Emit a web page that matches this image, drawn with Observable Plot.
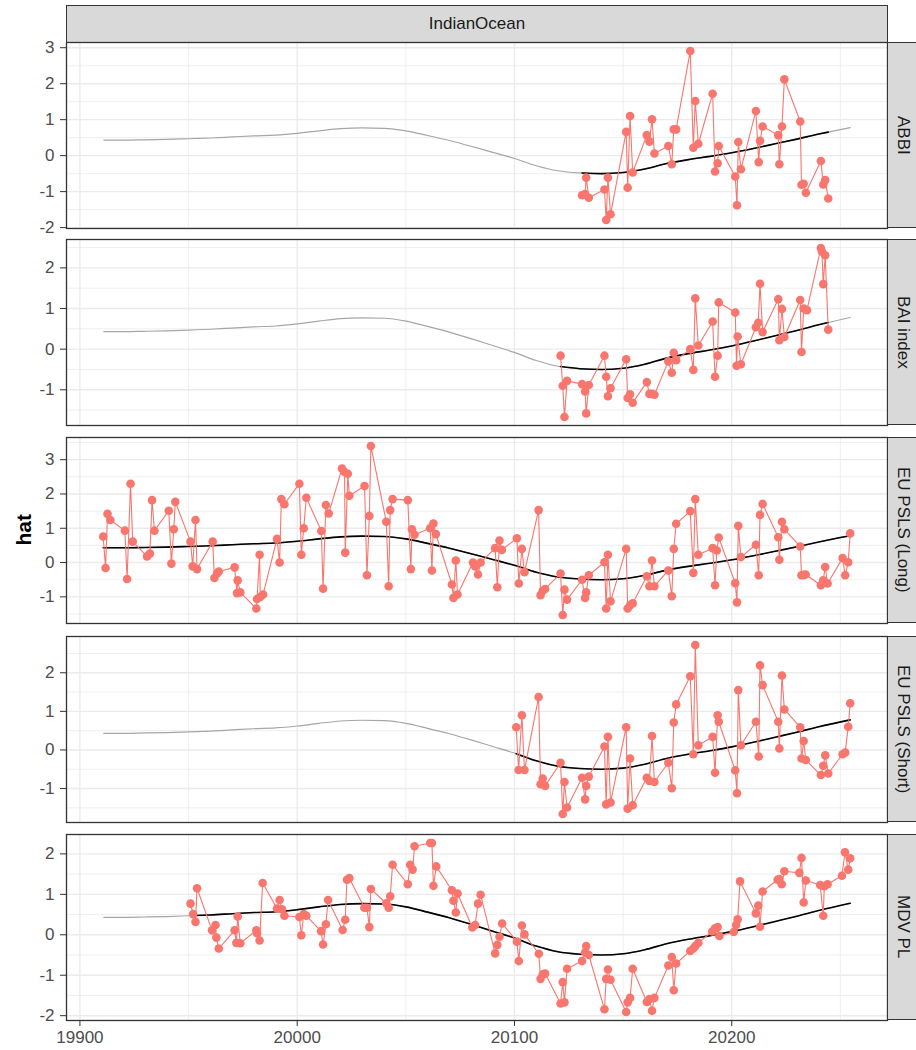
<!DOCTYPE html>
<html>
<head>
<meta charset="utf-8">
<script src="https://cdn.jsdelivr.net/npm/d3@7"></script>
<script src="https://cdn.jsdelivr.net/npm/@observablehq/plot@0.6"></script>
<style>
html, body { margin: 0; padding: 0; background: #fff; overflow: hidden; }
#root { position: relative; width: 916px; height: 1050px; overflow: hidden; font-family: "Liberation Sans", Arial, sans-serif; }
#root svg { position: absolute; left: 0; overflow: visible; }
.strip { position: absolute; background: #D9D9D9; border: 1px solid #333; box-sizing: border-box; color: #1A1A1A; font-size: 17px; display: flex; align-items: center; justify-content: center; white-space: nowrap; }
.strip.right span { writing-mode: vertical-rl; }
#ylab { position: absolute; left: 10px; top: 480px; width: 28px; height: 100px; display: flex; align-items: center; justify-content: center; font-size: 21px; font-weight: bold; color: #000; }
#ylab span { writing-mode: vertical-rl; transform: rotate(180deg); }
</style>
</head>
<body>
<div id="root"></div>
<script>
(function () {
// ---------------- data ----------------
const columnLabel = "IndianOcean";
const yTitle = "hat";
const panelNames = ["ABBI", "BAI index", "EU PSLS (Long)", "EU PSLS (Short)", "MDV PL"];

const xTicks = [19900, 20000, 20100, 20200];
const abbiTicks = [-2, -1, 0, 1, 2, 3];
const baiTicks = [-1, 0, 1, 2];
const longTicks = [-1, 0, 1, 2, 3];
const shortTicks = [-1, 0, 1, 2];
const mdvTicks = [-2, -1, 0, 1, 2];

// fitted smooth curve (shared by all panels)
const smoothX = [19911, 19920, 19930, 19940, 19950, 19960, 19970, 19980, 19990, 20000, 20010, 20020, 20030, 20040, 20050, 20060, 20070, 20080, 20090, 20100, 20110, 20120, 20130, 20140, 20150, 20160, 20170, 20180, 20190, 20200, 20210, 20220, 20230, 20240, 20254.5];
const smoothY = [0.43, 0.43, 0.44, 0.45, 0.47, 0.49, 0.52, 0.55, 0.57, 0.62, 0.69, 0.75, 0.77, 0.76, 0.69, 0.56, 0.42, 0.26, 0.09, -0.08, -0.28, -0.42, -0.48, -0.50, -0.47, -0.37, -0.22, -0.11, -0.02, 0.08, 0.20, 0.33, 0.46, 0.60, 0.78];

const abbiX = [20131.1, 20132.5, 20133.0, 20134.2, 20141.4, 20142.2, 20143.0, 20144.2, 20151.4, 20152.1, 20153.2, 20154.4, 20160.9, 20162.1, 20163.3, 20164.4, 20170.8, 20172.4, 20173.3, 20174.4, 20180.9, 20182.3, 20183.2, 20184.6, 20191.2, 20192.3, 20193.5, 20194.0, 20201.6, 20202.4, 20203.0, 20204.2, 20211.1, 20212.4, 20213.0, 20214.2, 20221.4, 20221.9, 20223.1, 20224.2, 20231.5, 20232.1, 20233.1, 20234.1, 20241.0, 20242.1, 20243.0, 20244.4];
const abbiY = [-1.10, -1.07, -0.61, -1.17, -0.94, -1.79, -0.61, -1.63, 0.66, -0.89, 1.10, -0.47, 0.57, 0.39, 1.01, 0.06, 0.27, -0.24, 0.73, 0.73, 2.91, 0.22, 1.52, 0.33, 1.72, -0.44, -0.21, 0.27, -0.58, -1.38, 0.38, -0.38, 1.24, -0.18, 0.41, 0.81, 0.57, -0.24, 0.81, 2.12, 0.95, -0.81, -0.78, -1.03, -0.15, -0.80, -0.68, -1.19];

const baiX = [20121.2, 20122.2, 20123.0, 20124.2, 20131.1, 20132.5, 20133.0, 20134.2, 20141.4, 20142.2, 20143.0, 20144.2, 20151.4, 20152.1, 20153.2, 20154.4, 20160.9, 20162.1, 20163.3, 20164.4, 20170.8, 20172.4, 20173.3, 20174.4, 20180.9, 20182.3, 20183.2, 20184.6, 20191.2, 20192.3, 20193.5, 20194.0, 20201.6, 20202.2, 20202.7, 20204.2, 20211.1, 20212.2, 20213.0, 20214.2, 20221.4, 20221.9, 20223.1, 20224.2, 20231.5, 20232.1, 20233.1, 20234.6, 20241.0, 20241.5, 20242.1, 20243.0, 20244.4];
const baiY = [-0.16, -0.90, -1.67, -0.78, -0.86, -1.04, -1.58, -0.88, -0.16, -0.68, -1.16, -0.96, -0.25, -1.20, -1.11, -1.32, -0.81, -1.10, -1.10, -1.12, -0.30, -0.58, -0.09, -0.27, 0.00, -0.51, 1.25, 0.09, 0.68, -0.68, -0.16, 1.15, 0.90, -0.41, 0.31, -0.37, 0.54, 0.65, 1.61, 0.42, 1.23, 0.22, 0.99, 0.30, 1.21, -0.07, 1.00, 0.96, 2.49, 2.40, 1.60, 2.31, 0.48];

const longX = [19910.7, 19911.8, 19912.7, 19914.0, 19920.7, 19921.7, 19923.3, 19924.3, 19930.9, 19932.2, 19933.2, 19934.3, 19940.9, 19942.1, 19943.2, 19943.9, 19950.9, 19951.9, 19953.2, 19953.9, 19961.1, 19961.9, 19963.1, 19963.9, 19971.2, 19972.3, 19972.6, 19973.8, 19981.2, 19981.5, 19982.7, 19983.0, 19984.3, 19990.7, 19991.9, 19992.7, 19994.1, 20001.0, 20001.9, 20003.0, 20004.2, 20011.1, 20011.9, 20013.2, 20014.5, 20020.6, 20021.8, 20022.1, 20023.3, 20024.0, 20031.0, 20032.1, 20033.2, 20033.9, 20041.0, 20042.1, 20042.8, 20043.9, 20050.9, 20052.3, 20052.8, 20054.0, 20061.2, 20062.0, 20062.7, 20063.8, 20071.2, 20071.9, 20073.0, 20073.8, 20080.9, 20081.9, 20083.2, 20084.4, 20091.1, 20092.1, 20093.1, 20094.2, 20101.1, 20102.0, 20103.4, 20104.6, 20111.1, 20112.0, 20113.0, 20114.1, 20121.2, 20122.2, 20123.0, 20124.2, 20131.1, 20132.5, 20133.0, 20134.2, 20141.4, 20142.2, 20143.0, 20144.2, 20151.4, 20152.1, 20153.2, 20154.4, 20160.9, 20162.1, 20163.3, 20164.4, 20170.8, 20172.4, 20173.3, 20174.4, 20180.9, 20182.3, 20183.2, 20184.6, 20191.2, 20192.3, 20193.1, 20194.0, 20201.6, 20202.4, 20203.0, 20204.2, 20211.1, 20212.4, 20213.0, 20214.2, 20221.4, 20221.9, 20223.1, 20224.2, 20231.5, 20232.1, 20233.1, 20234.0, 20241.0, 20242.1, 20243.0, 20244.1, 20251.0, 20252.2, 20253.6, 20254.5];
const longY = [0.76, -0.16, 1.42, 1.24, 0.93, -0.48, 2.30, 0.61, 0.18, 0.26, 1.82, 0.93, 1.51, -0.03, 0.97, 1.77, 0.61, -0.11, 1.24, -0.19, 0.61, -0.45, -0.32, -0.26, -0.14, -0.89, -0.52, -0.87, -1.34, -1.06, 0.23, -1.00, -0.93, 0.69, 0.00, 1.85, 1.70, 2.30, 0.23, 1.00, 1.89, 0.92, -0.76, 1.68, 1.43, 2.74, 2.64, 0.29, 2.59, 1.95, 2.23, -0.37, 1.36, 3.40, 1.19, -0.69, 1.53, 1.85, 1.82, -0.19, 0.97, 0.81, 1.00, -0.23, 1.14, 0.83, -0.64, -1.03, 0.06, -0.93, 0.00, -0.11, -0.35, 0.00, 0.42, -0.72, 0.64, 0.37, 0.71, -0.61, 0.40, -0.28, 1.53, -0.95, -0.82, -0.77, -0.32, -1.53, -0.79, -1.08, -0.50, -1.03, -0.87, -0.37, 0.01, -1.34, 0.23, -1.13, 0.40, -1.34, -1.24, -1.19, -0.40, -0.69, 0.06, -0.69, -0.23, -0.98, 0.40, 1.13, 1.50, -0.30, 1.85, 0.23, 0.42, -0.66, 0.35, 0.73, -0.60, -1.16, 1.07, 0.16, 0.52, -0.37, 1.39, 1.71, 0.74, 0.08, 1.19, 0.97, 0.47, -0.37, -0.36, -0.35, -0.66, -0.52, -0.13, -0.61, 0.13, -0.37, 0.01, 0.85];

const shortX = [20100.8, 20101.9, 20103.4, 20104.6, 20111.1, 20112.0, 20113.0, 20114.1, 20121.2, 20122.2, 20123.0, 20124.2, 20131.1, 20132.5, 20133.0, 20134.2, 20141.4, 20142.2, 20143.0, 20144.2, 20151.4, 20152.1, 20153.2, 20154.4, 20160.9, 20162.1, 20163.3, 20164.4, 20170.8, 20172.4, 20173.3, 20174.4, 20180.9, 20182.3, 20183.2, 20184.6, 20191.2, 20192.3, 20193.5, 20194.0, 20201.6, 20202.4, 20203.0, 20204.2, 20211.1, 20212.4, 20213.0, 20214.2, 20221.4, 20221.9, 20223.1, 20224.2, 20231.5, 20232.1, 20233.1, 20234.1, 20241.0, 20242.1, 20243.0, 20244.4, 20251.0, 20252.2, 20253.6, 20254.5];
const shortY = [0.59, -0.52, 0.90, -0.52, 1.37, -0.89, -0.74, -0.93, -0.33, -1.66, -0.83, -1.49, -0.72, -1.28, -0.93, -0.69, 0.09, -1.41, 0.34, -1.36, 0.59, -1.52, -0.22, -1.43, -0.72, -0.80, 0.36, -0.83, -0.33, -0.99, 0.71, 1.18, 1.91, -0.11, 2.72, 0.12, 0.34, -0.59, 0.90, 0.73, -0.53, -1.12, 1.55, 0.12, 0.73, -0.17, 2.19, 1.68, 0.73, 0.04, 1.93, 1.05, 0.59, -0.22, 0.23, -0.26, -0.65, -0.41, -0.14, -0.61, -0.11, -0.07, 0.60, 1.21];

const mdvX = [19950.9, 19952.1, 19953.2, 19953.9, 19960.8, 19962.4, 19962.8, 19963.9, 19971.2, 19972.0, 19972.6, 19973.8, 19981.2, 19981.5, 19982.7, 19984.1, 19990.7, 19991.9, 19993.0, 19994.1, 20001.0, 20001.9, 20003.0, 20004.2, 20011.0, 20011.9, 20013.2, 20014.2, 20020.9, 20022.1, 20022.9, 20024.0, 20030.9, 20032.1, 20033.2, 20033.9, 20041.0, 20042.1, 20042.8, 20043.9, 20050.9, 20052.0, 20053.1, 20054.0, 20061.2, 20062.0, 20062.7, 20064.0, 20071.2, 20071.9, 20073.0, 20073.8, 20080.6, 20081.9, 20083.2, 20084.4, 20091.1, 20092.1, 20093.1, 20094.3, 20101.1, 20102.0, 20103.4, 20104.6, 20111.2, 20112.0, 20113.0, 20114.1, 20121.2, 20122.2, 20123.0, 20124.2, 20131.1, 20132.5, 20133.0, 20134.2, 20141.4, 20142.2, 20143.0, 20144.2, 20151.4, 20152.1, 20153.2, 20154.4, 20160.9, 20162.1, 20163.3, 20164.4, 20170.8, 20172.4, 20173.3, 20174.4, 20180.9, 20182.3, 20183.2, 20184.6, 20191.0, 20192.3, 20193.5, 20194.3, 20200.9, 20202.0, 20202.7, 20203.8, 20211.1, 20212.2, 20213.0, 20214.2, 20221.1, 20221.9, 20223.0, 20224.2, 20231.1, 20232.1, 20233.1, 20234.1, 20240.7, 20242.1, 20242.6, 20244.1, 20250.7, 20252.1, 20253.6, 20254.5];
const mdvY = [0.77, 0.51, 0.32, 1.15, 0.11, 0.24, -0.07, -0.34, 0.11, -0.20, 0.45, -0.21, 0.11, 0.04, -0.14, 1.28, 0.65, 0.86, 0.63, 0.47, 0.44, -0.01, 0.51, 0.47, 0.09, -0.24, 0.26, 0.86, 0.12, 0.37, 1.36, 1.40, 0.67, 0.67, 0.19, 1.13, 0.78, 0.67, 0.95, 1.73, 1.25, 1.73, 1.61, 2.19, 2.27, 2.27, 1.21, 1.69, 1.10, 0.84, 0.55, 1.02, 0.18, 0.24, 0.77, 0.99, -0.46, -0.25, -0.05, 0.28, -0.17, -0.65, 0.23, 0.01, -0.47, -1.09, -0.98, -0.96, -1.70, -1.17, -1.67, -0.84, -0.65, -0.44, -0.28, -0.50, -1.84, -1.09, -0.86, -1.11, -1.91, -1.67, -1.56, -0.84, -1.66, -1.59, -1.88, -1.56, -0.76, -0.55, -1.37, -0.71, -0.40, -0.34, -0.28, -0.20, 0.08, 0.16, 0.19, -0.03, 0.07, 0.24, 0.38, 1.32, 0.53, 0.72, 0.20, 1.07, 1.36, 1.38, 1.25, 1.57, 1.53, 1.90, 0.80, 1.34, 1.23, 0.47, 1.20, 1.25, 1.46, 2.04, 1.61, 1.89];

// ---------------- layout / style ----------------
const series = [
  {x: abbiX, y: abbiY, ticks: abbiTicks},
  {x: baiX, y: baiY, ticks: baiTicks},
  {x: longX, y: longY, ticks: longTicks},
  {x: shortX, y: shortY, ticks: shortTicks},
  {x: mdvX, y: mdvY, ticks: mdvTicks}
];
const panelTops = [42, 239, 437, 636, 834];
const PH = 186;
const ML = 66, MR = 29;
const RED = "#F8766D";
const FONT = "'Liberation Sans', Arial, sans-serif";

const root = document.getElementById("root");

const xLo = d3.min(smoothX), xHi = d3.max(smoothX), xPad = (xHi - xLo) * 0.05;
const xDomain = [xLo - xPad, xHi + xPad];
const xMinor = xTicks.map(t => t + 50).filter(v => v >= xDomain[0] && v <= xDomain[1]);

const interp = d3.scaleLinear().domain(smoothX).range(smoothY);
const smooth = smoothX.map((x, i) => ({x, y: smoothY[i]}));

// top strip
const topStrip = document.createElement("div");
topStrip.className = "strip";
Object.assign(topStrip.style, {left: ML + "px", top: "5px", width: (916 - ML - MR + 1) + "px", height: "37.5px"});
topStrip.innerHTML = `<span>${columnLabel}</span>`;
root.appendChild(topStrip);

// y title
const yl = document.createElement("div");
yl.id = "ylab";
yl.innerHTML = `<span>${yTitle}</span>`;
root.appendChild(yl);

series.forEach((s, i) => {
  const last = i === series.length - 1;
  const pts = s.x.map((x, j) => ({x, y: s.y[j]}));
  const allY = s.y.concat(smoothY);
  const lo = d3.min(allY), hi = d3.max(allY), pad = (hi - lo) * 0.05;
  const yDomain = [lo - pad, hi + pad];
  const minorY = [s.ticks[0] - 0.5, ...s.ticks.map(t => t + 0.5)].filter(v => v > yDomain[0] && v < yDomain[1]);
  const dmin = d3.min(s.x), dmax = d3.max(s.x);
  const black = [{x: dmin, y: interp(dmin)}, ...smooth.filter(d => d.x > dmin && d.x < dmax), {x: dmax, y: interp(dmax)}];

  const mt = 1, mb = last ? 32 : 1;
  const chart = Plot.plot({
    width: 916,
    height: PH + mt + mb,
    marginLeft: ML, marginRight: MR, marginTop: mt, marginBottom: mb,
    x: {domain: xDomain, axis: null},
    y: {domain: yDomain, axis: null},
    style: {fontFamily: FONT, fontSize: "17px", background: "transparent", overflow: "visible"},
    marks: [
      Plot.ruleY(minorY, {stroke: "#EBEBEB", strokeWidth: 0.8}),
      Plot.ruleX(xMinor, {stroke: "#EBEBEB", strokeWidth: 0.8}),
      Plot.ruleY(s.ticks, {stroke: "#EBEBEB", strokeWidth: 1.4}),
      Plot.ruleX(xTicks, {stroke: "#EBEBEB", strokeWidth: 1.4}),
      Plot.line(smooth, {x: "x", y: "y", stroke: "#A6A6A6", strokeWidth: 1.2, curve: "monotone-x"}),
      Plot.line(black, {x: "x", y: "y", stroke: "#000", strokeWidth: 1.6, curve: "monotone-x"}),
      Plot.line(pts, {x: "x", y: "y", stroke: RED, strokeWidth: 1.1}),
      Plot.dot(pts, {x: "x", y: "y", r: 4.3, fill: RED, stroke: null}),
      Plot.axisY(s.ticks, {tickSize: 6, tickPadding: 6, stroke: "#333", fill: "#4D4D4D", fontSize: 17, label: null, tickFormat: d => String(d)}),
      last ? Plot.axisX(xTicks, {tickSize: 6, tickPadding: 4, stroke: "#333", fill: "#4D4D4D", fontSize: 17, label: null, tickFormat: d => String(d)}) : null,
      Plot.frame({stroke: "#333", strokeWidth: 1.3})
    ]
  });
  chart.style.top = (panelTops[i] - mt) + "px";
  root.appendChild(chart);

  const st = document.createElement("div");
  st.className = "strip right";
  Object.assign(st.style, {left: (916 - MR) + "px", top: panelTops[i] + "px", width: "31px", height: PH + "px"});
  st.innerHTML = `<span>${panelNames[i]}</span>`;
  root.appendChild(st);
});
})();
</script>
</body>
</html>
